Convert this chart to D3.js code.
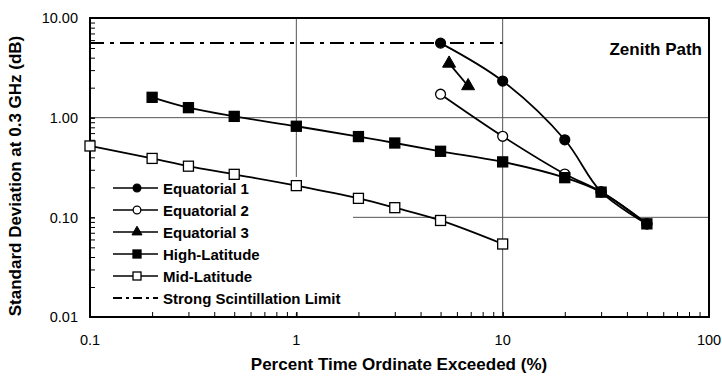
<!DOCTYPE html>
<html><head><meta charset="utf-8">
<script src="https://cdn.jsdelivr.net/npm/d3@7"></script>
<style>body{margin:0;background:#fff}svg{display:block;font-family:"Liberation Sans",Arial,sans-serif}</style>
</head><body><svg id="c" width="722" height="377"></svg>
<script>
const eq1X = [5, 10, 20, 30, 50];
const eq1Y = [5.6, 2.33, 0.6, 0.18, 0.086];
const eq2X = [5, 10, 20, 30, 50];
const eq2Y = [1.72, 0.65, 0.272, 0.18, 0.086];
const eq3X = [5.5, 6.8];
const eq3Y = [3.5, 2.08];
const hiX = [0.2, 0.3, 0.5, 1, 2, 3, 5, 10, 20, 30, 50];
const hiY = [1.6, 1.26, 1.03, 0.82, 0.646, 0.557, 0.46, 0.36, 0.25, 0.179, 0.086];
const midX = [0.1, 0.2, 0.3, 0.5, 1, 2, 3, 5, 10];
const midY = [0.52, 0.39, 0.326, 0.27, 0.208, 0.155, 0.125, 0.093, 0.054];
const limitX = [0.1, 10];
const limitY = [5.6, 5.6];
const xTicks = [0.1, 1, 10, 100];
const xTickLabels = ["0.1", "1", "10", "100"];
const yTicks = [0.01, 0.1, 1, 10];
const yTickLabels = ["0.01", "0.10", "1.00", "10.00"];
const legendNames = ["Equatorial 1", "Equatorial 2", "Equatorial 3", "High-Latitude", "Mid-Latitude", "Strong Scintillation Limit"];

const svg = d3.select("#c");
const L = 90, R = 709, T = 18, B = 317;
const x = d3.scaleLog().domain([0.1, 100]).range([L, R]);
const y = d3.scaleLog().domain([0.01, 10]).range([B, T]);

// gridlines
const grid = svg.append("g").attr("stroke", "#555").attr("stroke-width", 1);
[1, 10].forEach(v => grid.append("line").attr("x1", x(v)).attr("x2", x(v)).attr("y1", T).attr("y2", B));
[0.1, 1].forEach(v => grid.append("line").attr("x1", L).attr("x2", R).attr("y1", y(v)).attr("y2", y(v)));

// legend background (covers gridlines)
svg.append("rect").attr("x", L + 1).attr("y", 177).attr("width", 262).attr("height", 136).attr("fill", "#fff");

// axes with inward ticks
const minorX = [];
for (let d = 0.1; d < 100; d *= 10) for (let k = 1; k <= 10; k++) minorX.push(+(d * k).toPrecision(3));
const minorY = [];
for (let d = 0.01; d < 10; d *= 10) for (let k = 1; k <= 10; k++) minorY.push(+(d * k).toPrecision(3));
const xAxis = svg.append("g").attr("transform", `translate(0,${B})`)
  .call(d3.axisBottom(x).tickValues(minorX).tickSize(-5).tickFormat(""));
const yAxis = svg.append("g").attr("transform", `translate(${L},0)`)
  .call(d3.axisLeft(y).tickValues(minorY).tickSize(-5).tickFormat(""));
[xAxis, yAxis].forEach(g => { g.select(".domain").remove(); g.selectAll("line").attr("stroke", "#000"); });

// tick labels
svg.append("g").selectAll("text").data(xTicks).join("text")
  .attr("x", d => x(d)).attr("y", 345).attr("text-anchor", "middle")
  .attr("font-size", 14.5).text((d, i) => xTickLabels[i]);
svg.append("g").selectAll("text").data(yTicks).join("text")
  .attr("x", 78).attr("y", d => y(d) + 5.3).attr("text-anchor", "end")
  .attr("font-size", 14.5).text((d, i) => yTickLabels[i]);

// frame
svg.append("rect").attr("x", L).attr("y", T).attr("width", R - L).attr("height", B - T)
  .attr("fill", "none").attr("stroke", "#000").attr("stroke-width", 2);

// series
const line = d3.line().x(d => x(d[0])).y(d => y(d[1])).curve(d3.curveCatmullRom);
const zip = (a, b) => a.map((v, i) => [v, b[i]]);
const series = [
  {xs: eq1X, ys: eq1Y, m: "circle", fill: "#000"},
  {xs: eq2X, ys: eq2Y, m: "circle", fill: "#fff"},
  {xs: eq3X, ys: eq3Y, m: "triangle", fill: "#000"},
  {xs: hiX, ys: hiY, m: "square", fill: "#000"},
  {xs: midX, ys: midY, m: "square", fill: "#fff"}
];
// scintillation limit
svg.append("path").attr("d", d3.line().x(d => x(d[0])).y(d => y(d[1]))(zip(limitX, limitY)))
  .attr("fill", "none").attr("stroke", "#000").attr("stroke-width", 2).attr("stroke-dasharray", "14,6,4,6");

function marker(g, type, fill, cx, cy, s) {
  if (type === "circle") g.append("circle").attr("cx", cx).attr("cy", cy).attr("r", s * 0.55).attr("fill", fill).attr("stroke", "#000").attr("stroke-width", 1.3);
  else if (type === "square") g.append("rect").attr("x", cx - s / 2).attr("y", cy - s / 2).attr("width", s).attr("height", s).attr("fill", fill).attr("stroke", "#000").attr("stroke-width", 1.3);
  else g.append("path").attr("d", d3.symbol(d3.symbolTriangle, s * s * 0.9)()).attr("transform", `translate(${cx},${cy})`).attr("fill", fill).attr("stroke", "#000").attr("stroke-width", 1);
}
series.forEach(s => {
  const pts = zip(s.xs, s.ys);
  svg.append("path").attr("d", line(pts)).attr("fill", "none").attr("stroke", "#000").attr("stroke-width", 1.8);
  const g = svg.append("g");
  pts.forEach(p => marker(g, s.m, s.fill, x(p[0]), y(p[1]), s.m === "square" ? 10 : 9));
});

// legend
const lg = svg.append("g");
legendNames.forEach((n, i) => {
  const yy = 188 + i * 22;
  if (i < 5) {
    lg.append("line").attr("x1", 113).attr("x2", 158).attr("y1", yy).attr("y2", yy).attr("stroke", "#000").attr("stroke-width", 1.3);
    const s = series[i];
    marker(lg, s.m, s.fill, 137, yy, s.m === "square" ? 8 : 7);
  } else {
    lg.append("line").attr("x1", 113).attr("x2", 158).attr("y1", yy).attr("y2", yy).attr("stroke", "#000").attr("stroke-width", 2).attr("stroke-dasharray", "9,4,3,4");
  }
  lg.append("text").attr("x", 163).attr("y", yy + 5.5).attr("font-size", 15).attr("font-weight", "bold").text(n);
});

svg.append("text").attr("x", 702).attr("y", 55).attr("text-anchor", "end").attr("font-size", 17).attr("font-weight", "bold").text("Zenith Path");

// axis titles
svg.append("text").attr("x", 399).attr("y", 370).attr("text-anchor", "middle").attr("font-size", 17).attr("font-weight", "bold").text("Percent Time Ordinate Exceeded (%)");
svg.append("text").attr("transform", "translate(21,176) rotate(-90)").attr("text-anchor", "middle").attr("font-size", 17).attr("font-weight", "bold").text("Standard Deviation at 0.3 GHz (dB)");
</script></body></html>
